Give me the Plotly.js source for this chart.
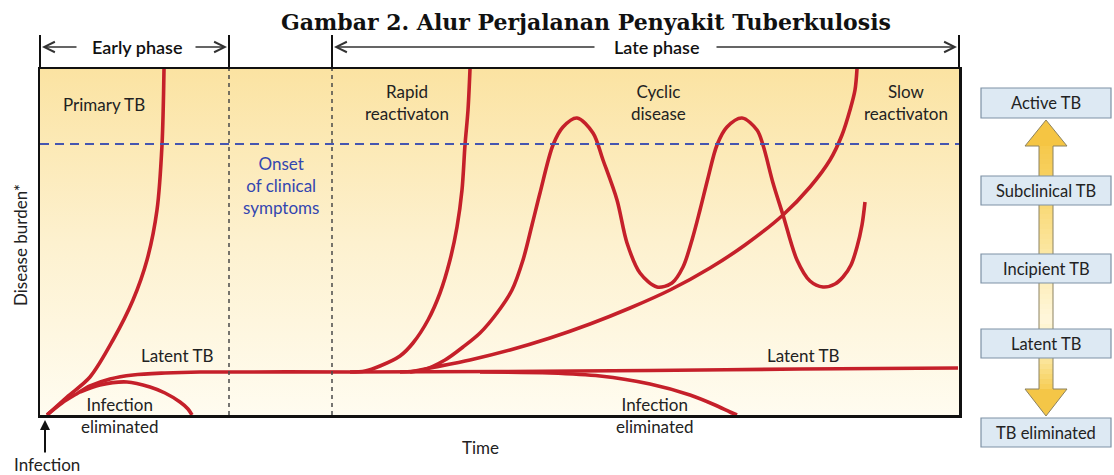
<!DOCTYPE html>
<html><head><meta charset="utf-8">
<script src="https://cdn.plot.ly/plotly-3.0.1.min.js"></script>
<style>html,body{margin:0;padding:0;background:#fff}#chart{width:1114px;height:475px}</style>
</head><body><div id="chart"></div>
<script>
// ---------- DATA (arbitrary units: time 0-919, disease burden 0-346) ----------
const timeRange = [0, 919];
const burdenRange = [0, 346];

const primaryTime   = [7, 27, 50, 73, 93, 107, 117, 122, 124];
const primaryBurden = [0, 18, 38, 75, 115, 155, 205, 270, 346];

const latentTime   = [7, 22, 38, 50, 70, 93, 125, 160, 310, 460, 610, 760, 918];
const latentBurden = [0, 12, 22, 29, 36, 40, 42, 43, 43, 43.5, 44.5, 46, 47];

const elimEarlyTime   = [40, 60, 87, 110, 125, 140, 148, 152];
const elimEarlyBurden = [23, 30, 33, 28, 22, 13, 6, 0];

const elimLateTime   = [440, 510, 560, 610, 650, 675, 690, 697];
const elimLateBurden = [43, 42, 39, 31, 20, 10, 3, 0];

const rapidTime   = [310, 325, 340, 360, 373, 388, 400, 410, 417, 422, 425, 428, 430];
const rapidBurden = [43, 44, 49, 59, 72, 95, 122, 155, 188, 225, 270, 305, 346];

const cyclicTime   = [360, 383, 405, 423, 440, 457, 472, 483, 492, 500, 513, 523, 537, 553, 563, 577, 587, 600, 617, 632, 643, 652, 660, 668, 677, 687, 702, 717, 723, 733, 743, 757, 770, 783, 795, 803, 811, 817, 822, 825];
const cyclicBurden = [43, 45, 55, 68, 82, 102, 125, 155, 190, 222, 270, 288, 297, 282, 255, 215, 172, 142, 128, 132, 148, 175, 205, 237, 270, 288, 297, 285, 270, 232, 200, 155, 134, 128, 131, 138, 150, 168, 190, 213];

const slowTime   = [370, 390, 430, 470, 510, 550, 590, 630, 670, 705, 743, 770, 790, 802, 810, 815, 817];
const slowBurden = [43, 47, 55, 65, 77, 91, 107, 125, 147, 170, 200, 228, 255, 280, 305, 325, 346];

const phaseBounds = [0, 189, 292, 919];   // start, end of early phase, start of late phase, end
const onsetLevel = 271;                    // onset of clinical symptoms
const stageLabels = ['Active TB', 'Subclinical TB', 'Incipient TB', 'Latent TB', 'TB eliminated'];

// ---------- helpers (pixel -> paper) ----------
const X = px => (px - 40) / 919;
const Y = py => (415 - py) / 346;
const RED = '#c5202a';
const FONT = 'Lato, "Open Sans", sans-serif';

function curve(x, y) {
  return {x, y, type: 'scatter', mode: 'lines', hoverinfo: 'skip', showlegend: false,
    line: {color: RED, width: 3.6, shape: 'spline', smoothing: 0.9}};
}

const traces = [
  {x: [timeRange[0], timeRange[1], timeRange[1], timeRange[0], timeRange[0]],
   y: [burdenRange[0], burdenRange[0], burdenRange[1], burdenRange[1], burdenRange[0]],
   type: 'scatter', mode: 'lines', fill: 'toself', line: {width: 0}, hoverinfo: 'skip', showlegend: false,
   fillgradient: {type: 'vertical', start: burdenRange[0], stop: burdenRange[1],
     colorscale: [[0, '#fffcf0'], [0.5, '#fdf1cf'], [1, '#fbe3a2']]}},
  curve(elimEarlyTime, elimEarlyBurden),
  curve(elimLateTime, elimLateBurden),
  curve(latentTime, latentBurden),
  curve(primaryTime, primaryBurden),
  curve(rapidTime, rapidBurden),
  curve(slowTime, slowBurden),
  curve(cyclicTime, cyclicBurden)
];

// ---------- shapes ----------
const shapes = [];
[phaseBounds[1], phaseBounds[2]].forEach(v => shapes.push({type: 'line', xref: 'x', yref: 'y',
  x0: v, x1: v, y0: burdenRange[0], y1: burdenRange[1], line: {color: '#4a4a4a', width: 1.5, dash: '4px,4px'}}));
shapes.push({type: 'line', xref: 'x', yref: 'y', x0: timeRange[0], x1: timeRange[1], y0: onsetLevel, y1: onsetLevel,
  line: {color: '#4656b0', width: 2, dash: '9px,6px'}});
phaseBounds.forEach(v => shapes.push({type: 'line', xref: 'paper', yref: 'paper',
  x0: v / 919, x1: v / 919, y0: Y(69), y1: Y(35), line: {color: '#111', width: 2}}));

// right arrow with gradient
const stops = [[118, [244, 193, 58]], [190, [248, 212, 104]], [255, [252, 232, 165]], [320, [255, 247, 220]], [355, [252, 234, 168]], [390, [246, 204, 82]], [418, [242, 190, 56]]];
function gradAt(py) {
  for (let i = 0; i < stops.length - 1; i++) {
    const [a, ca] = stops[i], [b, cb] = stops[i + 1];
    if (py >= a && py <= b) {
      const t = (py - a) / (b - a);
      return 'rgb(' + ca.map((c, k) => Math.round(c + (cb[k] - c) * t)).join(',') + ')';
    }
  }
  return py < stops[0][0] ? 'rgb(244,193,58)' : 'rgb(242,190,56)';
}
for (let py = 144; py < 391; py += 5) {
  shapes.push({type: 'rect', xref: 'paper', yref: 'paper', x0: X(1039), x1: X(1053), y0: Y(py + 5.6), y1: Y(py),
    fillcolor: gradAt(py + 2.5), line: {width: 0}});
}
const P = (px, py) => X(px) + ',' + Y(py);
shapes.push({type: 'path', xref: 'paper', yref: 'paper', path: 'M' + P(1046, 120) + 'L' + P(1067, 146) + 'L' + P(1025, 146) + 'Z',
  fillcolor: gradAt(132), line: {width: 0}});
shapes.push({type: 'path', xref: 'paper', yref: 'paper', path: 'M' + P(1046, 416) + 'L' + P(1067, 389) + 'L' + P(1025, 389) + 'Z',
  fillcolor: gradAt(402), line: {width: 0}});
shapes.push({type: 'path', xref: 'paper', yref: 'paper',
  path: 'M' + P(1046, 120) + 'L' + P(1067, 146) + 'L' + P(1053, 146) + 'L' + P(1053, 389) + 'L' + P(1067, 389) +
        'L' + P(1046, 416) + 'L' + P(1025, 389) + 'L' + P(1039, 389) + 'L' + P(1039, 146) + 'L' + P(1025, 146) + 'Z',
  line: {color: '#8c8260', width: 1}});
const boxPx = [[88, 118], [176, 205], [254, 283], [329, 358], [418, 447]];
boxPx.forEach(b => shapes.push({type: 'rect', xref: 'paper', yref: 'paper', x0: X(981), x1: X(1111), y0: Y(b[1]), y1: Y(b[0]),
  fillcolor: '#dde9f3', line: {color: '#7e92a5', width: 1.2}}));

// ---------- annotations ----------
const ann = [];
function txt(text, px, py, opts) {
  ann.push(Object.assign({text, xref: 'paper', yref: 'paper', x: X(px), y: Y(py), showarrow: false,
    xanchor: 'center', yanchor: 'middle', font: {family: FONT, size: 17, color: '#222'}}, opts || {}));
}
function arrow(pxHead, pyHead, ax, ay, opts) {
  ann.push(Object.assign({text: '', xref: 'paper', yref: 'paper', x: X(pxHead), y: Y(pyHead), ax, ay,
    showarrow: true, arrowhead: 5, arrowsize: 1.6, arrowwidth: 1.3, arrowcolor: '#333'}, opts || {}));
}
txt('<b>Gambar 2. Alur Perjalanan Penyakit Tuberkulosis</b>', 586, 22, {font: {family: '"DejaVu Serif", serif', size: 22, color: '#111'}});
txt('Early phase', 137, 47, {font: {family: FONT, size: 18, color: '#111', weight: 600}});
txt('Late phase', 657, 47, {font: {family: FONT, size: 18, color: '#111', weight: 600}});
arrow(42, 47, 36, 0);
arrow(227, 47, -33, 0);
arrow(334, 47, 262, 0);
arrow(957, 47, -242, 0);
txt('Primary TB', 104, 104);
txt('Rapid<br>reactivaton', 407, 102);
txt('Cyclic<br>disease', 658, 102);
txt('Slow<br>reactivaton', 906, 102);
txt('Onset<br>of clinical<br>symptoms', 281, 185, {font: {family: FONT, size: 17, color: '#3346b0'}});
txt('Latent TB', 177, 355);
txt('Latent TB', 803, 355);
txt('Infection<br>eliminated', 120, 416);
txt('Infection<br>eliminated', 655, 416);
txt('Time', 480, 447);
txt('Infection', 47, 464);
arrow(45, 420, 0, 34, {arrowhead: 2, arrowsize: 1, arrowwidth: 2, arrowcolor: '#111'});
txt('Disease burden*', 20, 245, {textangle: -90});
const boxCenters = [103, 190.5, 268.5, 343.5, 432.5];
stageLabels.forEach((s, i) => txt(s, 1046, boxCenters[i], {font: {family: FONT, size: 16.5, color: '#222'}}));

const axisCommon = {showgrid: false, zeroline: false, showticklabels: false, ticks: '', showline: true, mirror: true,
  linecolor: '#111', linewidth: 2.5, fixedrange: true};

const layout = {
  width: 1114, height: 475,
  margin: {l: 40, r: 155, t: 69, b: 60, pad: 0},
  paper_bgcolor: '#ffffff', plot_bgcolor: '#ffffff',
  xaxis: Object.assign({range: timeRange}, axisCommon),
  yaxis: Object.assign({range: burdenRange}, axisCommon),
  shapes, annotations: ann, showlegend: false
};

Plotly.newPlot('chart', traces, layout, {displayModeBar: false, staticPlot: true});
</script></body></html>
